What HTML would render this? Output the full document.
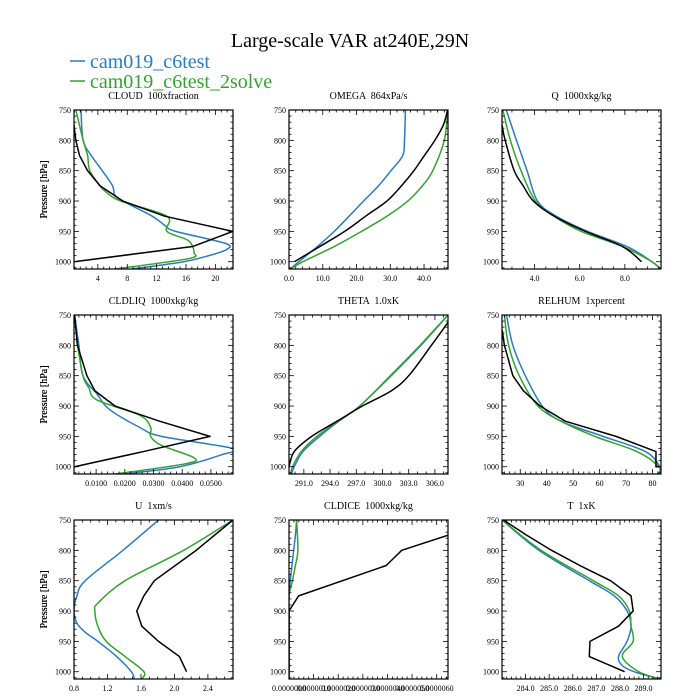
<!DOCTYPE html>
<html><head><meta charset="utf-8"><style>
html,body{margin:0;padding:0;background:#fff;}
svg{display:block;font-family:"Liberation Serif",serif;}
text{white-space:pre;}
</style></head><body>
<svg id="chart" width="700" height="700" viewBox="0 0 700 700" xmlns="http://www.w3.org/2000/svg">
<text x="350" y="47" font-size="20" text-anchor="middle">Large-scale VAR at240E,29N</text>
<g>
<line x1="70" y1="61" x2="85" y2="61" stroke="#2b7bbd" stroke-width="1.5"/>
<text x="90" y="68" font-size="20" fill="#2b7bbd">cam019_c6test</text>
<line x1="70" y1="81" x2="85" y2="81" stroke="#36a132" stroke-width="1.5"/>
<text x="90" y="88" font-size="20" fill="#36a132">cam019_c6test_2solve</text>
</g>
</svg>
<script>
// ---- data (pressure in hPa, values in panel units) ----
const cloudBlackP=[750,775,800,825,850,875,900,925,950,975,1000];
const cloudBlack=[0.5,0.74,1.0,1.5,2.6,4.3,7.4,13.1,22.4,16.9,0.74];
const cloudBlueP=[750,800,825,850,875,890,900,925,940,950,970,980,990,1000,1012];
const cloudBlue=[1.7,2.0,3.1,4.6,6.0,6.3,7.4,11.4,13.1,14.6,21.4,21.5,19.1,15.7,8.6];
const cloudGreenP=[750,800,825,850,875,885,900,925,950,965,985,995,1012];
const cloudGreen=[1.0,2.0,2.6,2.9,4.3,5.1,7.1,13.4,13.4,16.3,17.1,16.3,6.3];

const omegaBlackP=[750,775,800,825,850,875,900,925,950,975,1000];
const omegaBlack=[47,45.7,43.2,40.1,37,33.3,29,22.7,16.5,9.1,1.6];
const omegaBlueP=[750,800,825,850,875,900,925,950,975,1000,1012];
const omegaBlue=[34.5,34.2,33.7,30.2,26.5,22.1,17.8,13.4,8.4,2.9,0.4];
const omegaGreenP=[750,800,850,875,900,925,950,975,1000,1012];
const omegaGreen=[47,46,42.6,39.5,35.2,29,21.5,13.4,4.1,0.4];

const qBlackP=[775,800,850,875,900,925,950,975,1000];
const qBlack=[2.56,2.7,3.1,3.5,3.95,4.87,6.25,7.9,8.74];
const qBlueP=[750,800,850,900,925,950,975,1000,1012];
const qBlue=[2.75,3.2,3.67,4.13,4.96,6.34,8.1,9.2,9.57];
const qGreenP=[750,800,850,900,925,950,975,1000,1012];
const qGreen=[2.6,2.93,3.4,4.04,4.87,6.06,7.9,9.2,9.57];

const liqBlackP=[750,800,850,875,900,925,950,975,1000];
const liqBlack=[0.0025,0.0035,0.0068,0.0096,0.0166,0.0321,0.0497,0.0265,0.0025];
const liqBlueP=[750,800,850,880,905,935,950,970,980,1000,1012];
const liqBlue=[0.0025,0.004,0.0054,0.0103,0.0145,0.0251,0.0328,0.0578,0.0539,0.0392,0.0194];
const liqGreenP=[790,850,870,890,915,935,950,965,985,995,1012];
const liqGreen=[0.0032,0.0054,0.0075,0.0103,0.0251,0.029,0.029,0.0328,0.044,0.0413,0.0166];

const thetaBlackP=[750,760,800,850,875,900,925,950,975,1000];
const thetaBlack=[308,307.6,305.6,303,301,297.7,294.8,291.9,289.9,289.3];
const thetaBlueP=[750,800,850,900,925,950,975,1000,1012];
const thetaBlue=[307.5,304.4,301,297.4,295,292.8,290.9,289.9,289.6];
const thetaGreenP=[750,800,850,900,925,950,975,1000,1012];
const thetaGreen=[307.5,304.3,300.9,297.4,294.9,292.5,290.7,289.7,289.5];

const rhBlackP=[775,800,850,875,900,925,950,975,1000,1000];
const rhBlack=[23.2,24,27.2,31.2,37.5,47,66.2,81.3,81.3,82.5];
const rhBlueP=[750,800,850,900,925,950,975,1000,1012];
const rhBlue=[24.8,27.2,31.9,38.3,45.4,61.3,77.3,82.8,83.6];
const rhGreenP=[750,800,850,900,925,950,975,1000,1012];
const rhGreen=[24,25.6,29.6,36.7,45.4,58.2,74.1,82.4,82];

const uBlackP=[750,800,850,875,900,925,950,975,1000];
const uBlack=[2.7,2.26,1.76,1.635,1.55,1.61,1.81,2.06,2.145];
const uBlueP=[750,800,850,875,900,920,935,950,975,1000,1012];
const uBlue=[1.81,1.385,0.935,0.835,0.8,0.835,0.935,1.085,1.31,1.485,1.52];
const uGreenP=[750,800,850,887,900,925,950,975,1000,1012];
const uGreen=[2.7,2.11,1.41,1.085,1.05,1.085,1.185,1.41,1.635,1.61];

// CLDICE values in units of 1e-6
const iceBlackP=[775,800,825,875,900,925,950,975,1000,1012];
const iceBlack=[6.46,4.58,3.95,0.39,0,0,0,0,0,0];
const iceBlueP=[750,775,800,850,875,900,950,1000,1012];
const iceBlue=[0.31,0.26,0.19,0.05,0,0,0,0,0];
const iceGreenP=[750,800,825,850,875,900,950,1000,1012];
const iceGreen=[0.31,0.36,0.26,0.14,0,0,0,0,0];

const tBlackP=[750,775,800,825,850,875,900,925,950,975,1000];
const tBlack=[283.06,284.04,285.1,286.3,287.6,288.47,288.56,287.94,286.73,286.7,288.2];
const tBlueP=[750,800,850,875,900,925,950,975,990,1000,1012];
const tBlue=[283,284.57,286.7,287.76,288.3,288.47,288.3,287.94,288.1,288.6,289.7];
const tGreenP=[750,800,850,875,900,925,950,975,1000,1012];
const tGreen=[283,284.66,286.87,287.94,288.4,288.47,288.56,288.1,288.8,289.7];

// tick values
const cloudTicks=[4,8,12,16,20];
const omegaTicks=[0,10,20,30,40];
const qTicks=[4,6,8];
const liqTicks=[0.01,0.02,0.03,0.04,0.05];
const thetaTicks=[291,294,297,300,303,306];
const rhTicks=[30,40,50,60,70,80];
const uTicks=[0.8,1.2,1.6,2.0,2.4];
const iceTicks=[0,1,2,3,4,5,6];
const tTicks=[284,285,286,287,288,289];
const pTicks=[750,800,850,900,950,1000];

const NS="http://www.w3.org/2000/svg";
const svg=document.getElementById('chart');
function mk(tag,attrs,parent){const e=document.createElementNS(NS,tag);for(const k in attrs)e.setAttribute(k,attrs[k]);(parent||svg).appendChild(e);return e;}
function smoothPath(pts){
  let d='M'+pts[0][0].toFixed(2)+','+pts[0][1].toFixed(2);
  for(let i=0;i<pts.length-1;i++){
    const p0=pts[Math.max(i-1,0)],p1=pts[i],p2=pts[i+1],p3=pts[Math.min(i+2,pts.length-1)];
    const c1=[p1[0]+(p2[0]-p0[0])/6,p1[1]+(p2[1]-p0[1])/6];
    const c2=[p2[0]-(p3[0]-p1[0])/6,p2[1]-(p3[1]-p1[1])/6];
    d+=' C'+c1.map(v=>v.toFixed(2)).join(',')+' '+c2.map(v=>v.toFixed(2)).join(',')+' '+p2[0].toFixed(2)+','+p2[1].toFixed(2);
  }
  return d;
}

const W=159,H=159,PMIN=750,PMAX=1012;
const panels=[
 {key:'cloud',title:'CLOUD  100xfraction',x:74,y:110,xmin:0.75,xmax:22.4,ticks:cloudTicks,fmt:v=>String(v),minor:5,smoothBlack:false,
  s:[[cloudBlueP,cloudBlue,'blue'],[cloudGreenP,cloudGreen,'green'],[cloudBlackP,cloudBlack,'black']]},
 {key:'omega',title:'OMEGA  864xPa/s',x:289,y:110,xmin:0,xmax:47.1,ticks:omegaTicks,fmt:v=>v.toFixed(1),minor:5,smoothBlack:true,
  s:[[omegaBlueP,omegaBlue,'blue'],[omegaGreenP,omegaGreen,'green'],[omegaBlackP,omegaBlack,'black']]},
 {key:'q',title:'Q  1000xkg/kg',x:502,y:110,xmin:2.56,xmax:9.6,ticks:qTicks,fmt:v=>v.toFixed(1),minor:4,smoothBlack:true,
  s:[[qBlueP,qBlue,'blue'],[qGreenP,qGreen,'green'],[qBlackP,qBlack,'black']]},
 {key:'cldliq',title:'CLDLIQ  1000xkg/kg',x:74,y:315,xmin:0.0023,xmax:0.0577,ticks:liqTicks,fmt:v=>v.toFixed(4),minor:5,smoothBlack:false,
  s:[[liqBlueP,liqBlue,'blue'],[liqGreenP,liqGreen,'green'],[liqBlackP,liqBlack,'black']]},
 {key:'theta',title:'THETA  1.0xK',x:289,y:315,xmin:289.3,xmax:307.5,ticks:thetaTicks,fmt:v=>v.toFixed(1),minor:3,smoothBlack:true,
  s:[[thetaBlueP,thetaBlue,'blue'],[thetaGreenP,thetaGreen,'green'],[thetaBlackP,thetaBlack,'black']]},
 {key:'relhum',title:'RELHUM  1xpercent',x:502,y:315,xmin:23.1,xmax:83.2,ticks:rhTicks,fmt:v=>String(v),minor:5,smoothBlack:false,
  s:[[rhBlueP,rhBlue,'blue'],[rhGreenP,rhGreen,'green'],[rhBlackP,rhBlack,'black']]},
 {key:'u',title:'U  1xm/s',x:74,y:520,xmin:0.8,xmax:2.7,ticks:uTicks,fmt:v=>v.toFixed(1),minor:4,smoothBlack:false,
  s:[[uBlueP,uBlue,'blue'],[uGreenP,uGreen,'green'],[uBlackP,uBlack,'black']]},
 {key:'cldice',title:'CLDICE  1000xkg/kg',x:289,y:520,xmin:0,xmax:6.46,ticks:iceTicks,fmt:v=>(v*1e-6).toFixed(7),minor:5,smoothBlack:false,
  s:[[iceBlueP,iceBlue,'blue'],[iceGreenP,iceGreen,'green'],[iceBlackP,iceBlack,'black']]},
 {key:'t',title:'T  1xK',x:502,y:520,xmin:283.0,xmax:289.74,ticks:tTicks,fmt:v=>v.toFixed(1),minor:5,smoothBlack:false,
  s:[[tBlueP,tBlue,'blue'],[tGreenP,tGreen,'green'],[tBlackP,tBlack,'black']]},
];
const colors={blue:'#2b7bbd',green:'#36a132',black:'#000'};

panels.forEach((pn,i)=>{
  const g=mk('g',{});
  
  
  const xs=v=>pn.x+(v-pn.xmin)/(pn.xmax-pn.xmin)*W;
  const ys=p=>pn.y+(p-PMIN)/(PMAX-PMIN)*H;
  const cp=mk('clipPath',{id:'clip'+i},g);
  mk('rect',{x:pn.x,y:pn.y,width:W,height:H},cp);
  const t=mk('text',{x:pn.x+W/2,y:pn.y-11,'font-size':10,'text-anchor':'middle'},g);
  
  
  t.textContent=pn.title;
  const yl=mk('text',{x:0,y:0,'font-size':10,'text-anchor':'middle',transform:`translate(47,${pn.y+H/2}) rotate(-90)`},g);
  
  
  yl.textContent='Pressure [hPa]';
  pn.s.forEach(([P,V,c])=>{
    const pts=P.map((p,k)=>[xs(V[k]),ys(p)]);
    const smooth=(c!=='black')||pn.smoothBlack;
    const d=smooth?smoothPath(pts):'M'+pts.map(q=>q[0].toFixed(2)+','+q[1].toFixed(2)).join(' L');
    const pl=mk('path',{d:d,fill:'none',stroke:colors[c],'stroke-width':1.5,'stroke-linejoin':'round','clip-path':`url(#clip${i})`},g);
    
    
  });
  const fr=mk('rect',{x:pn.x,y:pn.y,width:W,height:H,fill:'none',stroke:'#000','stroke-width':1.2},g);
  
  
  for(let p=750;p<=PMAX;p+=10){
    const y=ys(p),major=p%50===0,L=major?5:2.5;
    mk('line',{x1:pn.x,y1:y,x2:pn.x+L,y2:y,stroke:'#000','stroke-width':0.8},g);
    mk('line',{x1:pn.x+W,y1:y,x2:pn.x+W-L,y2:y,stroke:'#000','stroke-width':0.8},g);
  }
  pTicks.forEach(p=>{
    const tl=mk('text',{x:pn.x-3,y:ys(p)+3,'font-size':8,'text-anchor':'end'},g);
    
    
    tl.textContent=String(p);
  });
  const step=pn.ticks[1]-pn.ticks[0], ms=step/pn.minor;
  const start=pn.ticks[0]-Math.ceil((pn.ticks[0]-pn.xmin)/ms)*ms;
  for(let v=start;v<=pn.xmax+1e-12;v+=ms){
    if(v<pn.xmin-1e-12)continue;
    const x=xs(v);
    const rel=Math.round((v-pn.ticks[0])/ms);
    const L=(rel%pn.minor===0)?5:2.5;
    mk('line',{x1:x,y1:pn.y+H,x2:x,y2:pn.y+H-L,stroke:'#000','stroke-width':0.8},g);
    mk('line',{x1:x,y1:pn.y,x2:x,y2:pn.y+L,stroke:'#000','stroke-width':0.8},g);
  }
  pn.ticks.forEach(v=>{
    const tl=mk('text',{x:xs(v),y:pn.y+H+12,'font-size':8,'text-anchor':'middle'},g);
    
    
    tl.textContent=pn.fmt(v);
  });
});
</script>
</body></html>
